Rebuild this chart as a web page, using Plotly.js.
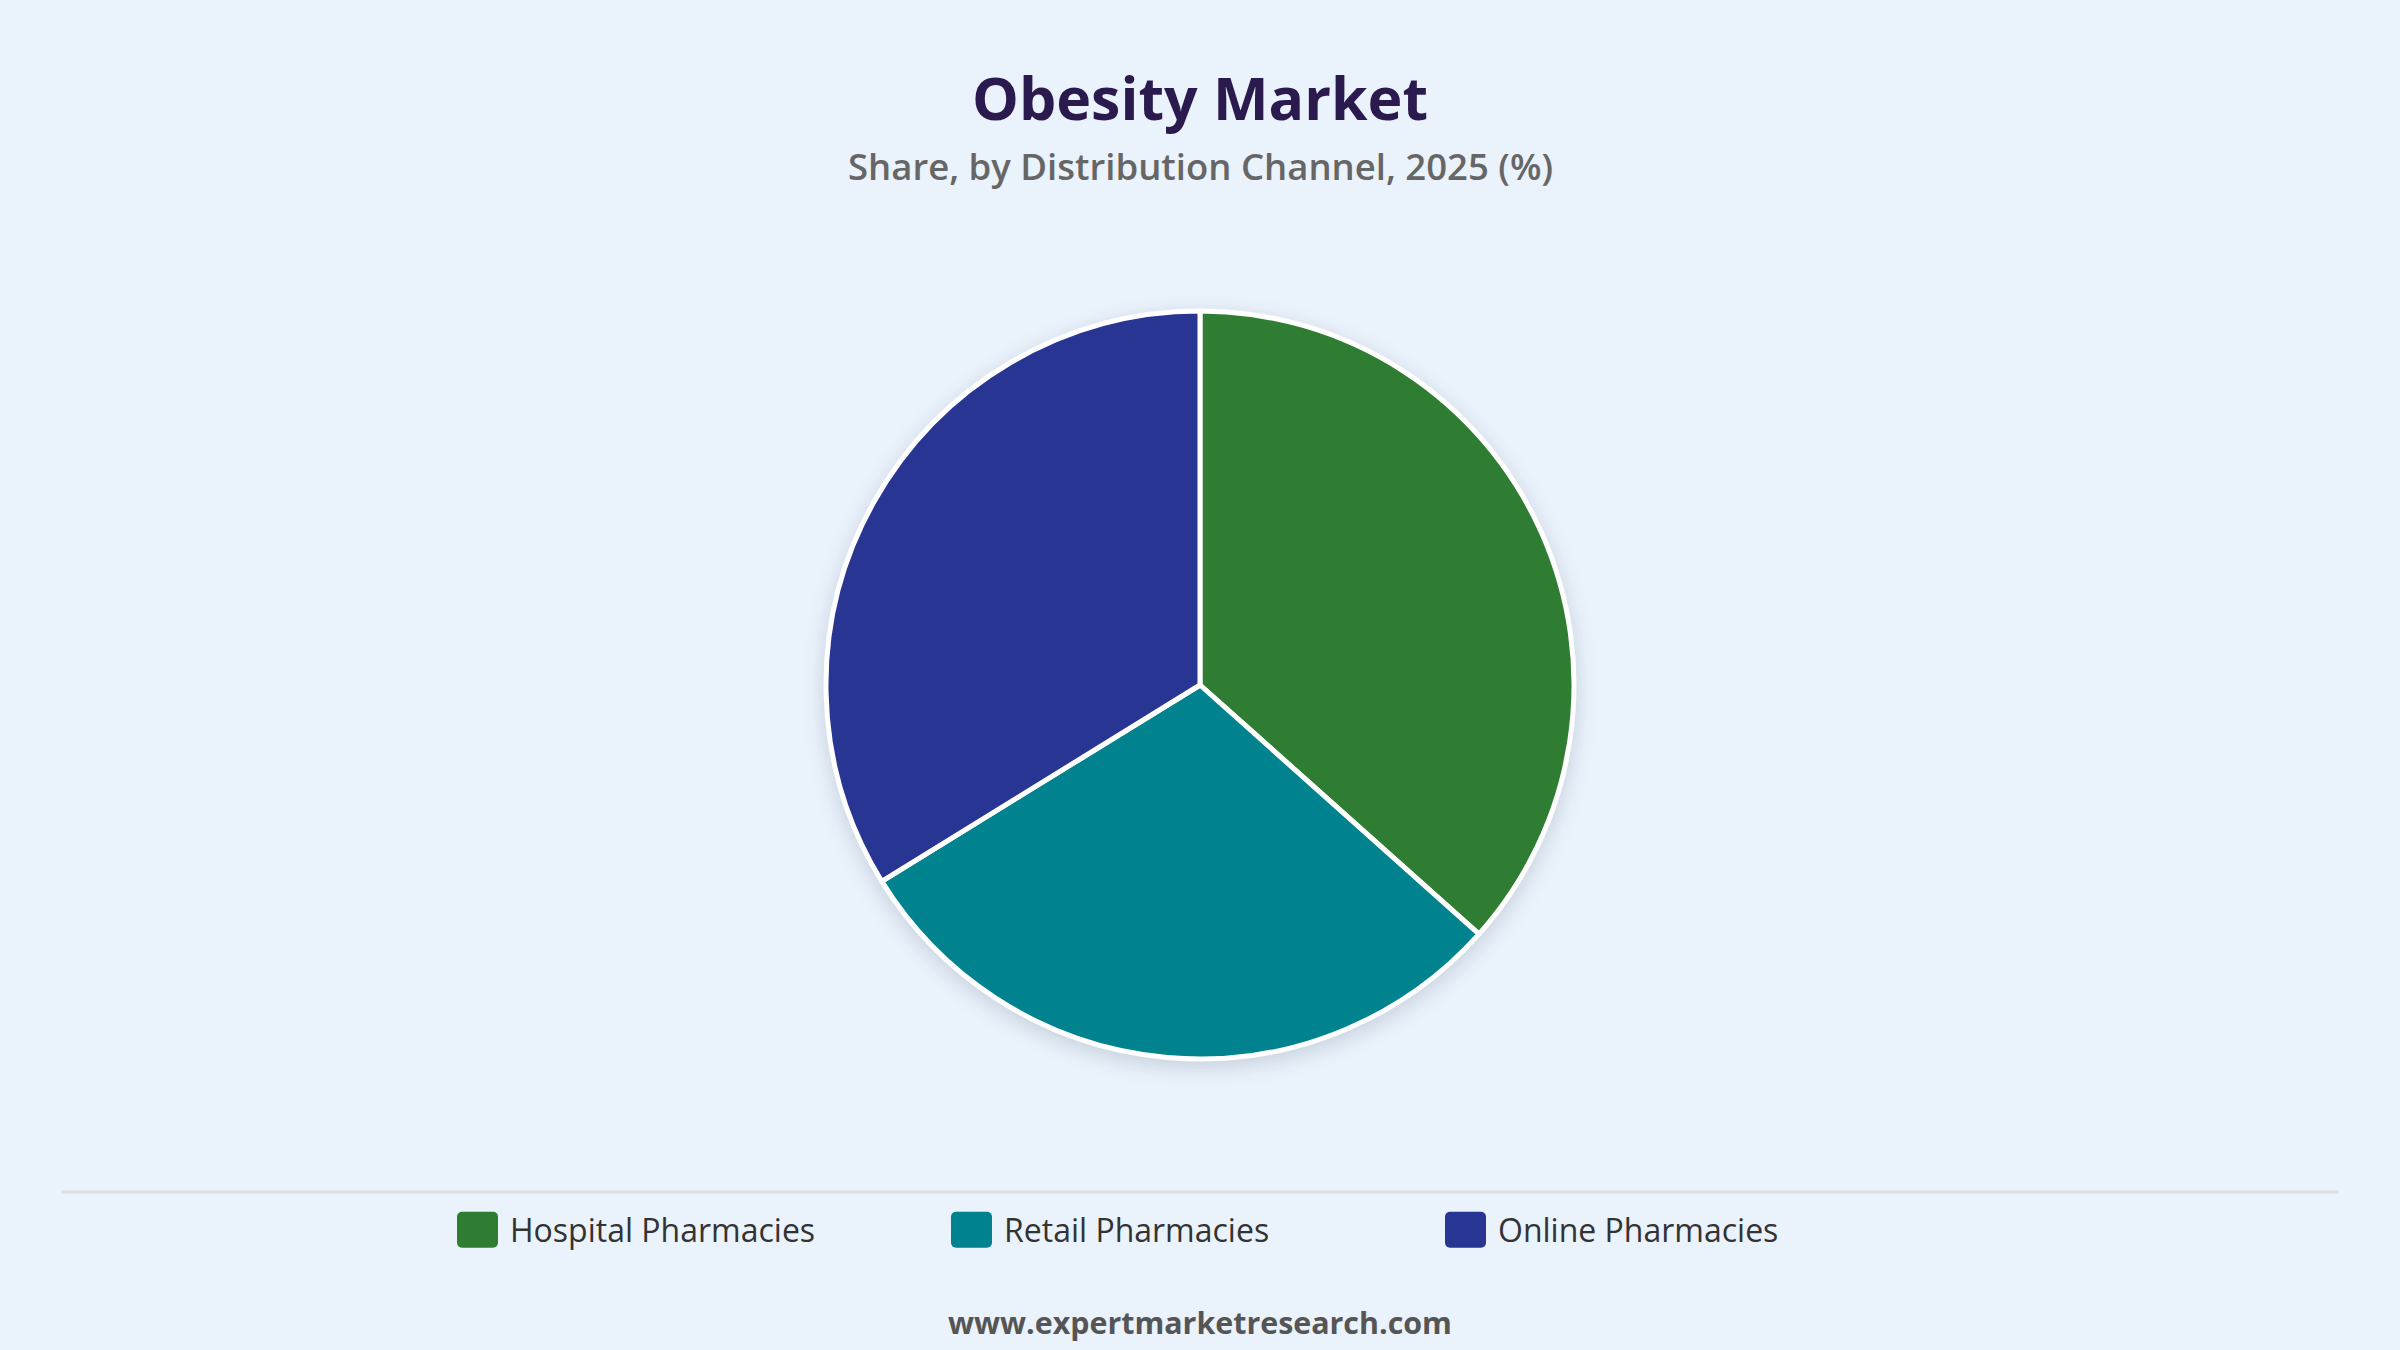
<!DOCTYPE html>
<html>
<head>
<meta charset="utf-8">
<script src="https://cdn.plot.ly/plotly-3.0.1.min.js"></script>
<style>
  html, body { margin: 0; padding: 0; background: #EAF2FB; }
  #chart { width: 2400px; height: 1350px; }
  .pielayer { filter: drop-shadow(0px 6px 10px rgba(40, 60, 90, 0.18)); }
</style>
</head>
<body>
<div id="chart"></div>
<script>
const categories = ["Hospital Pharmacies", "Retail Pharmacies", "Online Pharmacies"];
const shares = [36.6, 29.6, 33.8];
const colors = ["#2E7D32", "#00838F", "#283593"];

const titleText = "Obesity Market";
const subtitleText = "Share, by Distribution Channel, 2025 (%)";
const sourceText = "www.expertmarketresearch.com";

const H = 1350, W = 2400;
const mT = 311, mB = 291;
const plotH = H - mT - mB;
const py = (pix) => (H - mB - pix) / plotH;

const trace = {
  type: "pie",
  labels: categories,
  values: shares,
  sort: false,
  direction: "clockwise",
  rotation: 0,
  marker: { colors: colors, line: { color: "#FFFFFF", width: 5 } },
  textinfo: "none",
  hoverinfo: "label+percent",
  domain: { x: [0, 1], y: [0, 1] }
};

const layout = {
  width: W,
  height: H,
  paper_bgcolor: "#EAF2FB",
  plot_bgcolor: "#EAF2FB",
  margin: { l: 0, r: 0, t: mT, b: mB },
  font: { family: "'Open Sans', 'Noto Sans', sans-serif", color: "#333333" },
  title: {
    text: "<b>" + titleText + "</b>",
    font: { family: "'Open Sans', sans-serif", size: 59, color: "#2B1A4E", weight: 800 },
    x: 0.5, xanchor: "center",
    y: 1 - 99 / H, yanchor: "middle", yref: "container"
  },
  showlegend: true,
  legend: {
    orientation: "h",
    x: 0.5 + 11 / W, xanchor: "center",
    y: py(1230), yanchor: "middle",
    entrywidth: 449,
    entrywidthmode: "pixels",
    font: { size: 32, color: "#333333", family: "'Open Sans', sans-serif" },
    bgcolor: "rgba(0,0,0,0)",
    traceorder: "normal"
  },
  shapes: [{
    type: "line", xref: "paper", yref: "paper",
    x0: 61 / W, x1: 2339 / W, y0: py(1192), y1: py(1192),
    line: { color: "#DADDE2", width: 3 }
  }],
  annotations: [
    {
      text: subtitleText, xref: "paper", yref: "paper",
      x: 0.5, y: py(166), xanchor: "center", yanchor: "middle",
      showarrow: false,
      font: { size: 36.5, color: "#666666", family: "'Open Sans', sans-serif", weight: 600 }
    },
    {
      text: "<b>" + sourceText + "</b>", xref: "paper", yref: "paper",
      x: 0.5, y: py(1322), xanchor: "center", yanchor: "middle",
      showarrow: false,
      font: { size: 30.4, color: "#555555", family: "'Open Sans', sans-serif" }
    }
  ]
};

Plotly.newPlot("chart", [trace], layout, { displayModeBar: false, staticPlot: true }).then(function () {
  // let the enlarged swatches show fully
  document.querySelectorAll(".legend [clip-path], .legend").forEach(function (e) {
    e.removeAttribute("clip-path");
  });
  // enlarge legend swatches into rounded squares, leaving a gap before the text
  document.querySelectorAll(".legendpoints path").forEach(function (p) {
    p.setAttribute("d", "M-28,-18H3A5,5 0 0 1 8,-13V13A5,5 0 0 1 3,18H-28A5,5 0 0 1 -33,13V-13A5,5 0 0 1 -28,-18Z");
    p.style.strokeWidth = "0px";
  });
});
</script>
</body>
</html>
